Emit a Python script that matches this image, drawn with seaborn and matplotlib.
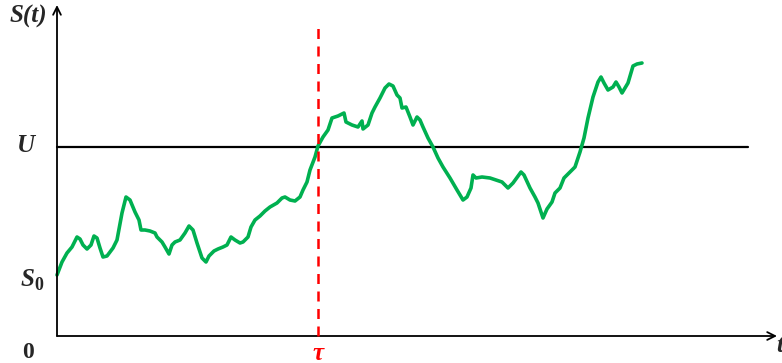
import matplotlib
matplotlib.use("Agg")
import matplotlib.pyplot as plt
import seaborn as sns
import numpy as np

# Sample path of the asset price S(t): time and price values
t_vals = [0, 5, 10, 15, 20, 23, 26, 30, 34, 37, 40, 43, 46, 50, 56, 60, 65, 69, 73, 78,
          82, 84, 88, 93, 98, 100, 105, 108, 112, 115, 118, 123, 128, 132, 136, 140, 145,
          149, 152, 157, 161, 166, 170, 174, 178, 183, 186, 191, 194, 198, 203, 208, 213,
          220, 225, 228, 233, 238, 243, 246, 250, 253, 258, 261, 266, 271, 275, 281, 287,
          289, 295, 301, 305, 306, 311, 315, 318, 323, 328, 332, 336, 340, 343, 345, 349,
          353, 356, 360, 363, 366, 371, 376, 381, 386, 393, 400, 406, 410, 414, 416, 419,
          425, 433, 445, 451, 456, 464, 467, 473, 478, 481, 486, 490, 495, 498, 503, 507,
          513, 518, 523, 527, 531, 536, 541, 544, 547, 551, 556, 559, 562, 565, 571, 576,
          580, 585]
s_vals = [61, 74, 83, 89, 99, 97, 91, 87, 91, 100, 98, 88, 79, 80, 88, 96, 123, 139, 136,
          124, 116, 106, 106, 105, 103, 99, 94, 89, 82, 91, 94, 96, 103, 110, 106, 93, 78,
          74, 80, 85, 87, 89, 91, 99, 96, 93, 94, 99, 109, 116, 120, 125, 129, 133, 138, 139,
          136, 135, 139, 146, 154, 166, 179, 190, 199, 206, 218, 220, 223, 214, 211, 209,
          215, 207, 211, 223, 229, 238, 248, 252, 250, 241, 238, 228, 229, 219, 211, 219,
          216, 209, 198, 189, 178, 169, 158, 146, 136, 139, 148, 161, 158, 159, 158, 154,
          148, 153, 164, 161, 148, 139, 133, 118, 127, 134, 143, 148, 158, 164, 169, 184,
          198, 218, 239, 254, 259, 253, 246, 249, 254, 249, 243, 253, 270, 272, 273]

U_level = 189      # barrier level U
tau = 261          # first hitting time of the barrier
t_max = 720        # end of the time axis
s_top = 331        # top of the price axis
dash_top = 308     # top of the hitting-time marker

sns.set_theme(style="white")
plt.rcParams["font.family"] = ["Liberation Serif", "DejaVu Serif"]

fig = plt.figure(figsize=(7.82, 3.63), dpi=100)
ax = fig.add_axes([0, 0, 1, 1])
ax.set_xlim(-57, 725)
ax.set_ylim(-27, 336)
ax.axis("off")

green = "#00B050"
sns.lineplot(x=t_vals, y=s_vals, ax=ax, color=green, linewidth=2.6,
             sort=False, estimator=None, zorder=3)

# axes with arrow heads
arrow = dict(arrowstyle="->", color="black", lw=1.3, mutation_scale=14, shrinkA=0, shrinkB=0)
ax.annotate("", xy=(0, s_top), xytext=(0, 0), arrowprops=arrow)
ax.annotate("", xy=(t_max, 0), xytext=(0, 0), arrowprops=arrow)

# barrier level and hitting time
ax.plot([0, 691], [U_level, U_level], color="black", lw=1.6, zorder=2)
ax.plot([tau, tau], [0, dash_top], color="#FF0000", lw=1.8, ls=(0, (4, 3)), zorder=4)

lab = dict(fontsize=18, fontweight="bold", fontstyle="italic", ha="center", va="center")
ax.text(-29, 320, "S(t)", **lab)
ax.text(-31, 191, "U", **lab)
ax.text(-30, 57, "S", **lab)
ax.text(-18, 51, "0", fontsize=13, fontweight="bold", ha="center", va="center")
ax.text(-29, -16, "0", fontsize=17, fontweight="bold", ha="center", va="center")
ax.text(tau, -17, "τ", color="#FF0000", **lab)
ax.text(723, -9, "t", **lab)

fig.savefig("out.png", dpi=100)
